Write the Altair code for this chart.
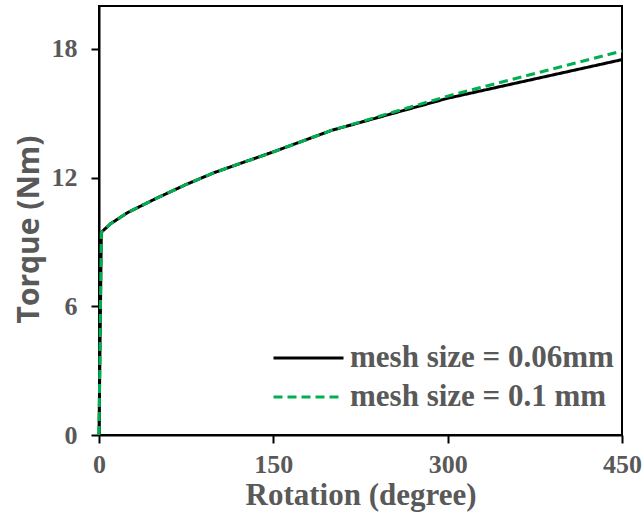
import altair as alt
import pandas as pd

rotation = [0, 2, 10, 25, 50, 75, 100, 150, 200, 250, 300, 350, 400, 450]
torque_006 = [0, 9.45, 9.85, 10.38, 11.05, 11.68, 12.25, 13.2, 14.2, 14.95, 15.7, 16.3, 16.9, 17.5]
torque_01 = [0, 9.45, 9.85, 10.38, 11.05, 11.68, 12.25, 13.2, 14.2, 15.0, 15.8, 16.5, 17.2, 17.9]
series_names = ["mesh size = 0.06mm", "mesh size = 0.1 mm"]
x_ticks = [0, 150, 300, 450]
y_ticks = [0, 6, 12, 18]
x_domain = [0, 450]
y_domain = [0, 20]

rows = []
for name, vals in zip(series_names, [torque_006, torque_01]):
    for r, t in zip(rotation, vals):
        rows.append({"Rotation": r, "Torque": t, "series": name})
df = pd.DataFrame(rows)
frame_df = pd.DataFrame({"x0": [x_domain[0]], "x1": [x_domain[1]],
                         "y0": [y_domain[0]], "y1": [y_domain[1]]})

gray = "#595959"
serif = "Liberation Serif"

xscale = alt.Scale(domain=x_domain, nice=False)
yscale = alt.Scale(domain=y_domain, nice=False)

lines = alt.Chart(df).mark_line(strokeWidth=3).encode(
    x=alt.X("Rotation:Q", scale=xscale,
            axis=alt.Axis(values=x_ticks, title="Rotation (degree)", grid=False,
                          domainColor="black", domainWidth=2, tickColor="black",
                          tickWidth=2, tickSize=8, labelFont=serif, labelFontSize=26,
                          labelFontWeight="bold", labelColor=gray, labelPadding=8,
                          labelFlush=False,
                          titleFont=serif, titleFontSize=31, titleFontWeight="bold",
                          titleColor=gray, titlePadding=3)),
    y=alt.Y("Torque:Q", scale=yscale,
            axis=alt.Axis(values=y_ticks, title="Torque (Nm)", grid=False,
                          domainColor="black", domainWidth=2, tickColor="black",
                          tickWidth=2, tickSize=8, labelFont=serif, labelFontSize=26,
                          labelFontWeight="bold", labelColor=gray, labelPadding=14,
                          labelFlush=False,
                          titleFont="Open Sans", titleFontSize=30, titleFontWeight="bold",
                          titleColor=gray, titlePadding=7, titleY=223)),
    color=alt.Color("series:N",
                    scale=alt.Scale(domain=series_names, range=["#000000", "#00B050"]),
                    legend=alt.Legend(title=None, orient="none", legendX=173, legendY=337,
                                      symbolType="stroke", symbolSize=4900,
                                      symbolStrokeWidth=3, labelFont=serif,
                                      labelFontSize=31, labelFontWeight="bold",
                                      labelColor=gray, labelLimit=500, rowPadding=8,
                                      clipHeight=30, labelOffset=5)),
    strokeDash=alt.StrokeDash("series:N",
                              scale=alt.Scale(domain=series_names, range=[[1, 0], [9, 5]]),
                              legend=None),
)

frame = alt.Chart(frame_df).mark_rect(filled=False, stroke="black", strokeWidth=2).encode(
    x=alt.X("x0:Q", scale=xscale),
    x2="x1:Q",
    y=alt.Y("y0:Q", scale=yscale),
    y2="y1:Q",
)

chart = alt.layer(frame, lines).properties(
    width=523, height=429,
    autosize=alt.AutoSizeParams(type="none"),
    padding={"left": 99, "top": 6, "right": 22, "bottom": 85},
).configure(
    background="white",
    view=alt.ViewConfig(stroke="black", strokeWidth=2),
)

chart.save("out.html", embed_options={"renderer": "svg", "actions": False})
